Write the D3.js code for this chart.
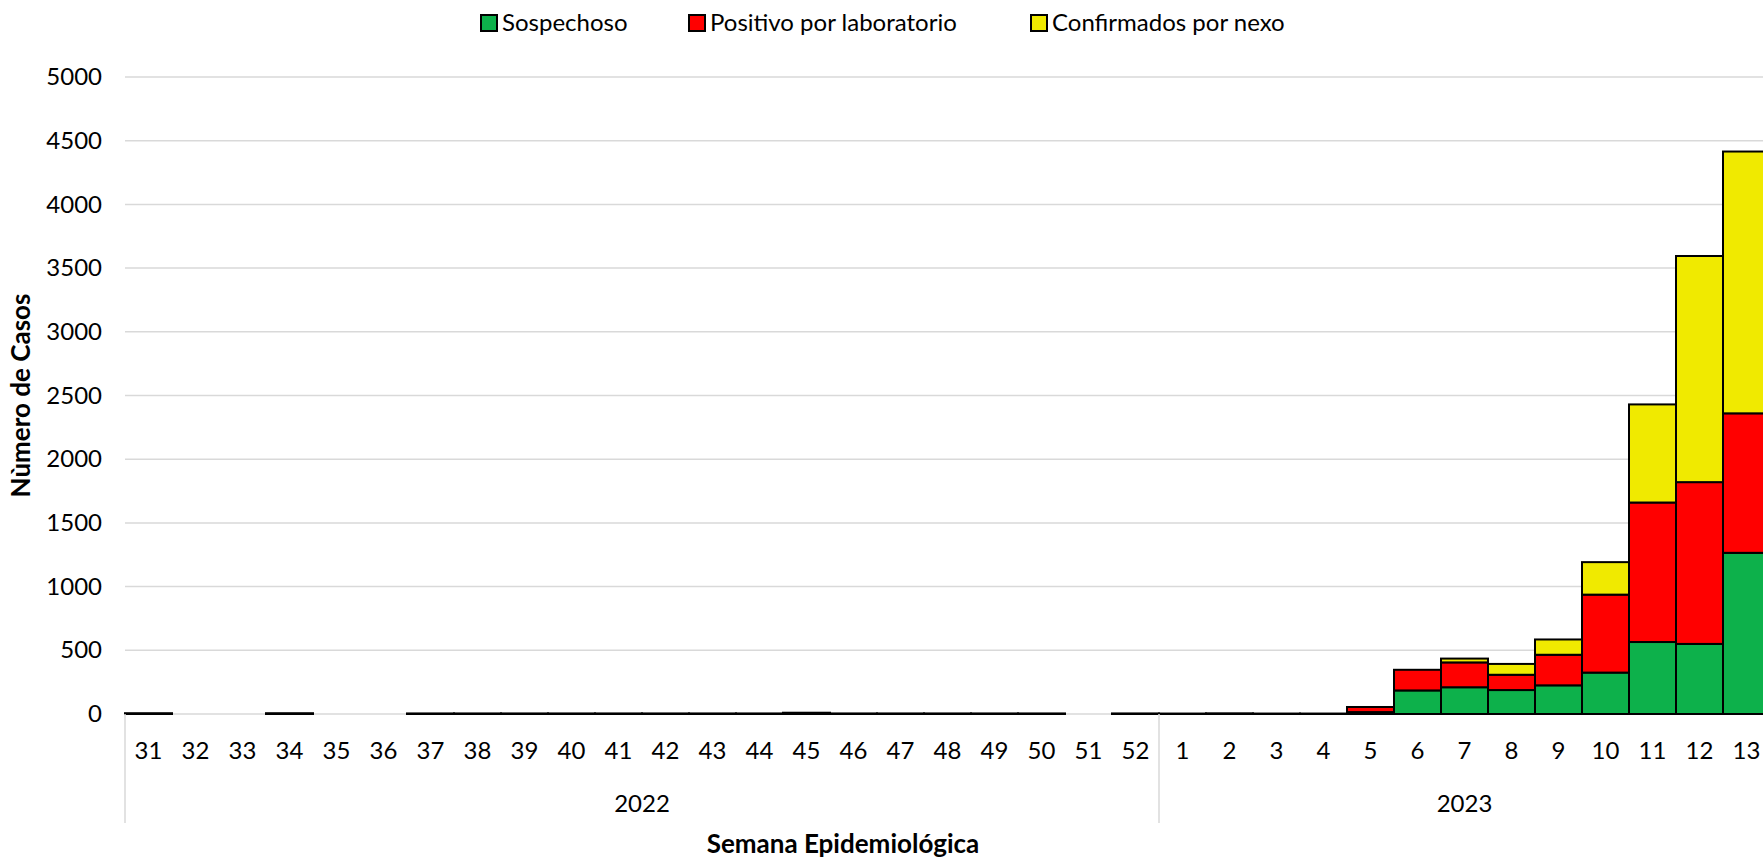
<!DOCTYPE html>
<html>
<head>
<meta charset="utf-8">
<script src="https://cdn.jsdelivr.net/npm/d3@7"></script>
<style>
    body { margin: 0; background: #fff; }
    text { font-family: Lato, "Open Sans", sans-serif; fill: #000; }
</style>
</head>
<body>
<svg id="chart" width="1763" height="858"></svg>
<script>
// semanas epidemiologicas 31/2022 - 13/2023
var weeks = ["31", "32", "33", "34", "35", "36", "37", "38", "39", "40", "41", "42", "43", "44", "45", "46", "47", "48", "49", "50", "51", "52",
    "1", "2", "3", "4", "5", "6", "7", "8", "9", "10", "11", "12", "13"];
var years = ["2022", "2023"];
var weeksPerYear = [22, 13];

var sospechoso = [1, 0, 0, 1, 0, 0, 1, 1, 1, 1, 1, 1, 1, 1, 2, 1, 1, 1, 1, 1, 0, 1,
    1, 1, 1, 1, 15, 185, 210, 188, 225, 325, 565, 550, 1265];
var positivo = [5, 0, 0, 5, 0, 0, 3, 3, 3, 3, 3, 3, 3, 3, 8, 3, 3, 3, 3, 3, 0, 3,
    2, 4, 2, 2, 40, 162, 195, 120, 240, 612, 1095, 1270, 1095];
var nexo = [0, 0, 0, 0, 0, 0, 0, 0, 0, 0, 0, 0, 0, 0, 0, 0, 0, 0, 0, 0, 0, 0,
    0, 0, 0, 0, 0, 0, 30, 85, 120, 255, 770, 1775, 2055];

var keys = ["Sospechoso", "Positivo por laboratorio", "Confirmados por nexo"];
var colors = ["#0db14b", "#ff0000", "#f0ea00"];
var yTicks = [0, 500, 1000, 1500, 2000, 2500, 3000, 3500, 4000, 4500, 5000];

var data = weeks.map(function (w, i) {
    return {
        id: i,
        week: w,
        "Sospechoso": sospechoso[i],
        "Positivo por laboratorio": positivo[i],
        "Confirmados por nexo": nexo[i]
    };
});

var svg = d3.select("#chart");
var plotLeft = 125, plotBottom = 714, plotTop = 77;

var x = d3.scaleBand()
    .domain(data.map(function (d) { return d.id; }))
    .range([plotLeft, plotLeft + 47 * weeks.length])
    .padding(0);

var y = d3.scaleLinear()
    .domain([0, 5000])
    .range([plotBottom, plotTop]);

var z = d3.scaleOrdinal().domain(keys).range(colors);

// grid
svg.append("g")
    .selectAll("line")
    .data(yTicks.slice(1))
    .enter().append("line")
    .attr("x1", plotLeft)
    .attr("x2", 1763)
    .attr("y1", function (d) { return y(d); })
    .attr("y2", function (d) { return y(d); })
    .attr("stroke", "#d9d9d9")
    .attr("stroke-width", 1.5);

// y axis labels
var yAxis = svg.append("g")
    .attr("transform", "translate(" + plotLeft + ",0)")
    .call(d3.axisLeft(y).tickValues(yTicks).tickFormat(d3.format("d")).tickSize(0).tickPadding(23));
yAxis.select(".domain").remove();
yAxis.selectAll("text")
    .attr("font-size", 24)
    .style("font-family", "Lato, sans-serif")
    .attr("fill", "#000");

// baseline
svg.append("line")
    .attr("x1", plotLeft).attr("x2", 1763)
    .attr("y1", plotBottom).attr("y2", plotBottom)
    .attr("stroke", "#d9d9d9")
    .attr("stroke-width", 1.5);

// bars
svg.append("g")
    .selectAll("g")
    .data(d3.stack().keys(keys)(data))
    .enter().append("g")
    .attr("fill", function (d) { return z(d.key); })
    .selectAll("rect")
    .data(function (d) { return d.filter(function (p) { return p[1] - p[0] > 0; }); })
    .enter().append("rect")
    .attr("x", function (d) { return x(d.data.id); })
    .attr("y", function (d) { return y(d[1]); })
    .attr("width", x.bandwidth())
    .attr("height", function (d) { return y(d[0]) - y(d[1]); })
    .attr("stroke", "#000")
    .attr("stroke-width", 2);

// x axis: week labels
svg.append("g")
    .selectAll("text")
    .data(data)
    .enter().append("text")
    .attr("x", function (d) { return x(d.id) + x.bandwidth() / 2; })
    .attr("y", 759)
    .attr("text-anchor", "middle")
    .attr("font-size", 24)
    .text(function (d) { return d.week; });

// year groups
var start = 0, groups = [];
years.forEach(function (yr, i) {
    groups.push({ year: yr, from: start, to: start + weeksPerYear[i] });
    start += weeksPerYear[i];
});

var sep = [0].concat(groups.map(function (g) { return g.to; }));
svg.append("g")
    .selectAll("line")
    .data(sep)
    .enter().append("line")
    .attr("x1", function (d) { return plotLeft + d * x.step(); })
    .attr("x2", function (d) { return plotLeft + d * x.step(); })
    .attr("y1", plotBottom)
    .attr("y2", 823)
    .attr("stroke", "#d9d9d9")
    .attr("stroke-width", 1.5);

svg.append("g")
    .selectAll("text")
    .data(groups)
    .enter().append("text")
    .attr("x", function (g) { return plotLeft + (g.from + g.to) / 2 * x.step(); })
    .attr("y", 812)
    .attr("text-anchor", "middle")
    .attr("font-size", 24)
    .text(function (g) { return g.year; });

// axis titles
svg.append("text")
    .attr("x", 843)
    .attr("y", 853)
    .attr("text-anchor", "middle")
    .attr("font-size", 26)
    .attr("font-weight", "bold")
    .text("Semana Epidemiológica");

svg.append("text")
    .attr("transform", "translate(30," + (plotTop + plotBottom) / 2 + ") rotate(-90)")
    .attr("text-anchor", "middle")
    .attr("font-size", 26)
    .attr("font-weight", "bold")
    .text("Nùmero de Casos");

// legend
var legendX = [481, 689, 1031];
var legend = svg.append("g")
    .selectAll("g")
    .data(keys)
    .enter().append("g")
    .attr("transform", function (d, i) { return "translate(" + legendX[i] + ",23)"; });

legend.append("rect")
    .attr("x", 0)
    .attr("y", -8)
    .attr("width", 16)
    .attr("height", 16)
    .attr("fill", z)
    .attr("stroke", "#000")
    .attr("stroke-width", 2);

legend.append("text")
    .attr("x", 21)
    .attr("y", 0)
    .attr("dy", "0.35em")
    .attr("font-size", 24)
    .text(function (d) { return d; });
</script>
</body>
</html>
